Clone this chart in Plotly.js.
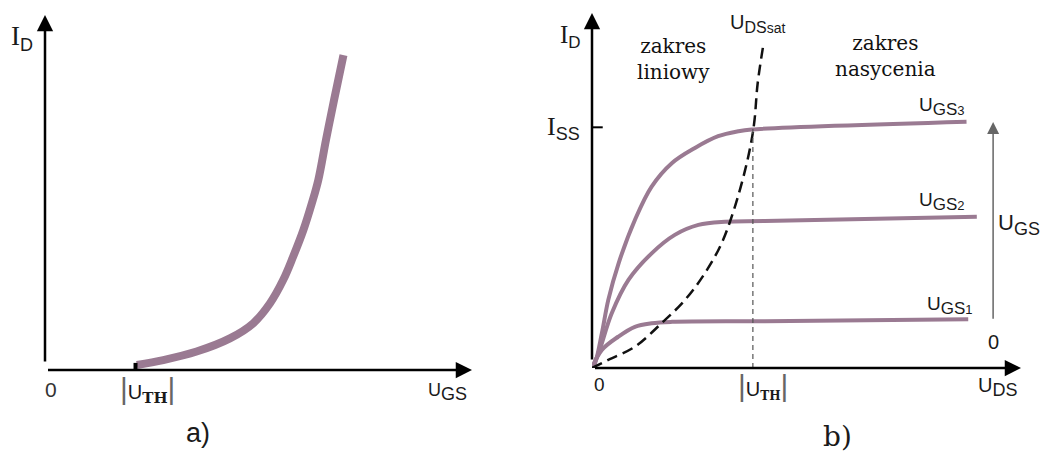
<!DOCTYPE html>
<html><head><meta charset="utf-8">
<script src="https://cdn.plot.ly/plotly-3.0.1.min.js"></script>
<style>html,body{margin:0;padding:0;background:#fff}</style>
</head><body><div id="chart" style="width:1040px;height:452px"></div>
<script>
// ---- Panel a: transfer characteristic I_D(U_GS) ----
const transferUgs = [2.15, 2.77, 3.55, 4.33, 4.88, 5.27, 5.58, 5.81, 6.05, 6.25, 6.40, 6.58, 6.77, 6.99];
const transferId  = [0.14, 0.28, 0.52, 0.89, 1.32, 1.88, 2.54, 3.19, 3.94, 4.70, 5.35, 6.48, 7.61, 8.87];
const thresholdA = 2.12;

// ---- Panel b: output characteristics I_D(U_DS) ----
const ugs3Uds = [0, 0.07, 0.23, 0.38, 0.62, 1.00, 1.39, 1.86, 2.40, 2.94, 3.41, 3.72, 8.73];
const ugs3Id  = [0, 0.13, 0.98, 1.92, 2.95, 4.17, 5.11, 5.77, 6.20, 6.53, 6.67, 6.72, 6.94];
const ugs2Uds = [0, 0.15, 0.46, 0.85, 1.39, 1.93, 2.48, 3.10, 4.03, 8.97];
const ugs2Id  = [0, 0.41, 1.54, 2.48, 3.23, 3.75, 4.03, 4.12, 4.14, 4.26];
const ugs1Uds = [0, 0.23, 0.61, 1.00, 1.39, 1.86, 4.03, 8.77];
const ugs1Id  = [0, 0.51, 0.88, 1.16, 1.26, 1.30, 1.32, 1.37];
const satUds  = [0, 0.38, 1.00, 1.62, 2.17, 2.63, 3.02, 3.33, 3.57, 3.72, 3.79, 3.86, 4.00];
const satId   = [0, 0.23, 0.60, 1.26, 1.92, 2.67, 3.51, 4.54, 5.58, 6.42, 7.00, 8.00, 9.15];
const thresholdB = 3.75;
const issLevel = 6.78;
const ugsArrowX = 9.35, ugsArrowFrom = 1.15, ugsArrowTo = 6.93;

const W = 1040, H = 452;
const PURPLE = '#9a7a92';
const fx = px => px / W, fy = py => 1 - py / H;

const traces = [
  {x: transferUgs, y: transferId, xaxis: 'x', yaxis: 'y', mode: 'lines',
   line: {color: PURPLE, width: 8, shape: 'spline', smoothing: 1}},
  {x: ugs3Uds, y: ugs3Id, xaxis: 'x2', yaxis: 'y2', mode: 'lines',
   line: {color: PURPLE, width: 4, shape: 'spline', smoothing: 1}},
  {x: ugs2Uds, y: ugs2Id, xaxis: 'x2', yaxis: 'y2', mode: 'lines',
   line: {color: PURPLE, width: 4, shape: 'spline', smoothing: 1}},
  {x: ugs1Uds, y: ugs1Id, xaxis: 'x2', yaxis: 'y2', mode: 'lines',
   line: {color: PURPLE, width: 4, shape: 'spline', smoothing: 1}},
  {x: satUds, y: satId, xaxis: 'x2', yaxis: 'y2', mode: 'lines',
   line: {color: '#111', width: 2.5, dash: '11px,6px', shape: 'spline', smoothing: 1}}
];

const hiddenAxis = {range: [0, 10], showgrid: false, zeroline: false, showline: false,
  showticklabels: false, ticks: '', fixedrange: true};

function lbl(text, px, py, size, family, color) {
  return {text: text, x: fx(px), y: fy(py), xref: 'paper', yref: 'paper',
    showarrow: false, xanchor: 'center', yanchor: 'middle',
    font: {size: size, family: family || 'Liberation Sans', color: color || '#1a1a1a'}};
}
function axisArrow(xr, yr, x, y, ax, ay, color, width, size) {
  return {xref: xr, yref: yr, axref: xr, ayref: yr, x: x, y: y, ax: ax, ay: ay,
    text: ' ', showarrow: true, arrowhead: 2, arrowsize: size || 1.3,
    arrowwidth: width || 2.5, arrowcolor: color || '#000'};
}
const SANS = 'Liberation Sans', SERIF = 'DejaVu Serif';
const ssub = (t, s) => `<sub><span style="font-size:${s}px">${t}</span></sub>`;
const bar = '<span style="font-size:30px;color:#666">|</span>';
const thSub = s => `<sub><span style="font-family:DejaVu Serif;font-weight:bold;font-size:${s}px">TH</span></sub>`;
const serifI = (sub, s) => `I<sub><span style="font-family:Liberation Sans;font-size:${s}px">${sub}</span></sub>`;

const annotations = [
  // axes
  axisArrow('x', 'y', 10, 0, 0, 0),
  axisArrow('x', 'y', 0, 10, 0, 0),
  axisArrow('x2', 'y2', 10, 0, 0, 0),
  axisArrow('x2', 'y2', 0, 10, 0, 0),
  axisArrow('x2', 'y2', ugsArrowX, ugsArrowTo, ugsArrowX, ugsArrowFrom, '#666', 1.5, 1.6),
  // panel a labels
  lbl(serifI('D', 18), 22, 38, 27, 'Liberation Serif'),
  lbl('0', 51, 389, 21, SANS, '#333'),
  lbl(bar + 'U' + thSub(15) + bar, 147, 389, 20, SANS),
  lbl('U' + ssub('GS', 18), 447, 392, 18, SANS),
  lbl('a)', 198, 433, 27, SANS),
  // panel b labels
  lbl(serifI('D', 17), 570, 36, 25, 'Liberation Serif'),
  lbl(serifI('SS', 18), 563, 128, 26, 'Liberation Serif'),
  lbl('U' + ssub('DS', 16) + ssub('sat', 14), 757, 24, 20, SANS),
  lbl('zakres<br>liniowy', 673, 59, 20, SERIF, '#111'),
  lbl('zakres<br>nasycenia', 885, 56, 20, SERIF, '#111'),
  lbl('U' + ssub('GS', 17) + ssub('3', 13), 942, 106, 19, SANS),
  lbl('U' + ssub('GS', 17) + ssub('2', 13), 942, 201, 19, SANS),
  lbl('U' + ssub('GS', 17) + ssub('1', 13), 950, 305, 19, SANS),
  lbl('U' + ssub('GS', 18), 1019, 224, 22, SANS),
  lbl('0', 993, 342, 20, SANS),
  lbl('0', 599, 384, 19, SANS),
  lbl(bar + 'U' + thSub(12) + bar, 763, 386, 20, SANS),
  lbl('U' + ssub('DS', 18), 997, 387, 20, SANS),
  lbl('b)', 837, 436, 28, SERIF)
];

const shapes = [
  {type: 'line', xref: 'x', yref: 'y', x0: thresholdA, x1: thresholdA, y0: -0.2, y1: 0.2,
   line: {color: '#000', width: 4}},
  {type: 'line', xref: 'x2', yref: 'y2', x0: thresholdB, x1: thresholdB, y0: 0, y1: issLevel,
   line: {color: '#555', width: 1.2, dash: '5px,4px'}},
  {type: 'line', xref: 'x2', yref: 'y2', x0: 0, x1: 0.25, y0: issLevel, y1: issLevel,
   line: {color: '#000', width: 2}}
];

const layout = {
  width: W, height: H, margin: {l: 0, r: 0, t: 0, b: 0},
  paper_bgcolor: '#fff', plot_bgcolor: 'rgba(0,0,0,0)', showlegend: false,
  font: {family: SANS, color: '#222'},
  xaxis: Object.assign({domain: [fx(45), fx(472)], anchor: 'y'}, hiddenAxis),
  yaxis: Object.assign({domain: [fy(370), fy(15)], anchor: 'x'}, hiddenAxis),
  xaxis2: Object.assign({domain: [fx(592), fx(1021)], anchor: 'y2'}, hiddenAxis),
  yaxis2: Object.assign({domain: [fy(368), fy(13)], anchor: 'x2'}, hiddenAxis),
  annotations: annotations, shapes: shapes
};

Plotly.newPlot('chart', traces, layout, {staticPlot: true, displayModeBar: false});
</script></body></html>
